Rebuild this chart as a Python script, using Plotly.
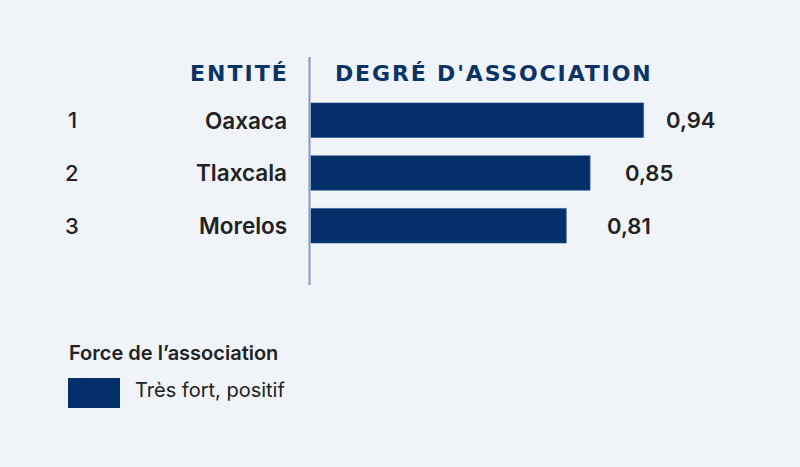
import plotly.graph_objects as go

# ---- data ----
ranks = ["1", "2", "3"]
entities = ["Oaxaca", "Tlaxcala", "Morelos"]
values = [0.94, 0.85, 0.81]
value_labels = ["0,94", "0,85", "0,81"]
header_left = "ENTITÉ"
header_right = "DEGRÉ D'ASSOCIATION"
legend_title = "Force de l’association"
legend_labels = ["Très fort, positif"]
legend_colors = ["#04306a"]

BG = "#f0f3f8"
BAR = "#04306a"
HEAD = "#0b3366"
TXT = "#222222"
LINE = "#7f9cc4"

W, H = 800, 467
ypos = list(range(len(entities)))

fig = go.Figure()

# bars on primary axis
fig.add_trace(go.Bar(
    x=values, y=ypos, orientation="h",
    marker=dict(color=BAR, line=dict(color="#2d5590", width=0.6)),
    width=0.655, hoverinfo="skip", showlegend=False,
    xaxis="x", yaxis="y",
))

# anchor trace for the label axis (invisible)
fig.add_trace(go.Scatter(
    x=values, y=ypos, mode="markers", marker=dict(opacity=0),
    hoverinfo="skip", showlegend=False, xaxis="x2", yaxis="y",
))

fig.update_layout(
    width=W, height=H,
    margin=dict(l=0, r=0, t=0, b=0),
    paper_bgcolor=BG, plot_bgcolor=BG,
    bargap=0,
    xaxis=dict(domain=[310.7 / W, 1], range=[0.3802, 1.2030],
               visible=False, fixedrange=True),
    xaxis2=dict(range=[0.1636, 1.2390],
                overlaying="x", visible=False, fixedrange=True),
    yaxis=dict(domain=[0, 1], range=[6.574, -2.279],
               visible=False, fixedrange=True),
    showlegend=False,
)

# value labels
for v, lab, yp in zip(values, value_labels, ypos):
    fig.add_annotation(text=lab, x=v, xref="x2", y=yp, yref="y",
                       xanchor="left", yanchor="middle", showarrow=False,
                       font=dict(family="Inter", size=22, color=TXT, weight=600))

# vertical separator
fig.add_shape(type="line", xref="paper", yref="paper",
              x0=309.5 / W, x1=309.5 / W, y0=1 - 57 / H, y1=1 - 285 / H,
              line=dict(color=LINE, width=2))

# headers (letter-spaced)
hfont = dict(family="DejaVu Sans", size=22, color=HEAD, weight=800)
fig.add_annotation(text=f'<span style="letter-spacing:2px">{header_left}</span>',
                   xref="paper", yref="paper",
                   x=291 / W, y=1 - 74 / H, xanchor="right", yanchor="middle",
                   showarrow=False, font=hfont)
fig.add_annotation(text=f'<span style="letter-spacing:1.85px">{header_right}</span>',
                   xref="paper", yref="paper",
                   x=333 / W, y=1 - 74 / H, xanchor="left", yanchor="middle",
                   showarrow=False, font=hfont)

# rank numbers and entity names
for r, e, yp in zip(ranks, entities, ypos):
    fig.add_annotation(text=r, x=72 / W, xref="paper", y=yp, yref="y",
                       xanchor="center", yanchor="middle", showarrow=False,
                       font=dict(family="Inter", size=22, color=TXT, weight=500))
    fig.add_annotation(text=e, x=289 / W, xref="paper", y=yp, yref="y",
                       xanchor="right", yanchor="middle", showarrow=False,
                       font=dict(family="Inter", size=22.5, color=TXT, weight=600))

# legend
fig.add_annotation(text=legend_title, xref="paper", yref="paper",
                   x=67 / W, y=1 - 353 / H, xanchor="left", yanchor="middle",
                   showarrow=False,
                   font=dict(family="Inter", size=20, color=TXT, weight=600))
for i, (lab, col) in enumerate(zip(legend_labels, legend_colors)):
    fig.add_shape(type="rect", xref="paper", yref="paper",
                  x0=68 / W, x1=120 / W, y0=1 - 408 / H, y1=1 - 378 / H,
                  fillcolor=col, line=dict(width=0))
    fig.add_annotation(text=lab, xref="paper", yref="paper",
                       x=133 / W, y=1 - 390 / H, xanchor="left", yanchor="middle",
                       showarrow=False,
                       font=dict(family="Inter", size=20, color=TXT, weight=400))

fig.write_html("out.html",
               config={"displayModeBar": False, "staticPlot": True},
               post_script="document.body.style.margin='0';document.body.style.background='%s';" % BG)
